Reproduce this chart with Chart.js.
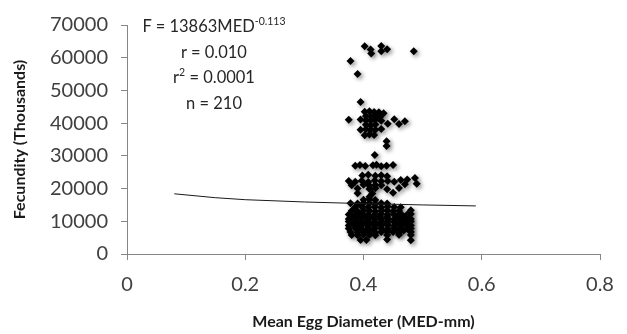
<!DOCTYPE html>
<html>
<head>
<meta charset="utf-8">
<script src="https://cdn.jsdelivr.net/npm/chart.js@4"></script>
<style>
  html, body { margin: 0; padding: 0; background: #fff; }
  #wrap { position: relative; width: 627px; height: 334px; }
  #note { position: absolute; left: 114px; top: 14px; width: 200px; text-align: center;
          font-family: Lato, "Open Sans", sans-serif; font-size: 16.5px; color: #262626; line-height: 25.5px; }
  #note sup { font-size: 10.5px; vertical-align: 7px; line-height: 0; }
</style>
</head>
<body>
<div id="wrap">
  <canvas id="c" width="627" height="334"></canvas>
  <div id="note">
    <div>F = 13863MED<sup>-0.113</sup></div>
    <div>r = 0.010</div>
    <div>r<sup>2</sup> = 0.0001</div>
    <div>n = 210</div>
  </div>
</div>
<script>
// Mean egg diameter (mm) of each observation
const med = [
  0.378,0.390,0.402,0.412,0.413,0.430,0.430,0.440,0.485,
  0.395, 0.402,0.410,0.418,0.426,0.434, 0.404,0.412,0.420,0.428,
  0.375,0.395,0.404,0.412,0.420,0.430,0.452,0.470, 0.441,0.460,
  0.404,0.412,0.420, 0.395,0.404,0.412,0.420,0.430, 0.402,0.410,0.418, 0.439,0.439, 0.419,
  0.386,0.394,0.403,0.416,0.422,0.430,0.439,0.450,
  0.398,0.408,0.420,0.430,0.440,
  0.375,0.386,0.397,0.408,0.419,0.430,0.441,0.452,0.463,0.474,0.487,
  0.380,0.400,0.410,0.420,0.430,0.470,0.490,
  0.390,0.410,0.420,0.440,0.460,
  0.390,0.415,0.450, 0.410,
  0.400,0.410,0.420,
  0.378,0.390,0.400,0.410,0.420,0.430,0.440,
  0.386,0.397,0.408,0.419,0.430,0.441,0.452,0.463,
  0.380,0.390,0.400,0.410,0.420,0.430,0.440,0.450,0.460,0.480,
  0.375,0.386,0.397,0.408,0.419,0.430,0.441,0.452,0.463,0.474,0.480,
  0.380,0.392,0.404,0.416,0.428,0.440,0.456,0.468,
  0.375,0.386,0.397,0.408,0.419,0.430,0.441,0.452,0.463,0.474,0.480,
  0.375,0.386,0.397,0.408,0.419,0.430,0.441,0.452,0.463,0.474,0.480,
  0.380,0.392,0.404,0.416,0.428,0.440,0.456,0.468,
  0.375,0.386,0.397,0.408,0.419,0.430,0.441,0.452,0.463,0.474,0.480,
  0.375,0.386,0.397,0.408,0.419,0.430,0.441,0.452,0.463,0.474,0.480,
  0.392,0.404,0.416,0.440,0.456,0.468,
  0.378,0.390,0.400,0.410,0.420,0.430,0.440,0.450,0.460,0.480,
  0.380,0.390,0.400,0.410,0.420,0.440,0.460,0.480,
  0.395,0.405,0.440,0.480
];
// Fecundity (thousands) of each observation
const fecundity = [
  59000,55000,63500,62500,61300,63600,62000,62600,62000,
  46500, 43500,43600,43400,43300,43000, 42200,42000,42300,41900,
  41000,41100,40900,40800,41000,40700,41200,40600, 39800,39700,
  39500,39300,39600, 38000,38100,37900,38000,38200, 36300,36500,36400, 34500,33000, 30300,
  27000,27200,26900,27100,27300,26800,27000,27200,
  24000,24200,23900,24100,23800,
  22300,22100,22400,22000,22500,22200,22300,22100,22600,22800,23200,
  21000,21200,20900,21100,21000,21300,21500,
  20000,19900,20100,19800,20200,
  18600,18500,18700, 17500,
  16600,16700,16500,
  15500,15400,15600,15500,15300,15500,15400,
  14400,14500,14300,14400,14200,14500,14400,14300,
  13200,13100,13300,13200,13000,13200,13300,13100,13200,13400,
  12100,12000,12200,12100,12000,12200,12100,12000,12300,12100,12200,
  11400,11300,11500,11400,11300,11400,11500,11400,
  10700,10600,10800,10700,10600,10700,10800,10600,10700,10800,10700,
  9900,9800,10000,9900,9800,9900,10000,9800,9900,10000,9900,
  9300,9200,9400,9300,9200,9300,9400,9300,
  8700,8600,8800,8700,8600,8700,8800,8600,8700,8800,8700,
  7800,7900,7700,7800,7900,7800,7700,7900,7800,7700,7800,
  7300,7200,7300,7200,7300,7200,
  6700,6600,6800,6700,6600,6700,6800,6700,6600,6700,
  5800,5700,5900,5800,5700,5800,5900,5800,
  4300,4300,4400,4200
];
// Power trendline
const trendMed = [0.08, 0.15, 0.2, 0.3, 0.4, 0.5, 0.59];
const trendFecundity = [18400, 17200, 16600, 15900, 15400, 15000, 14700];
// Axis ticks
const xTicks = [0, 0.2, 0.4, 0.6, 0.8];
const yTicks = [0, 10000, 20000, 30000, 40000, 50000, 60000, 70000];

const n = Math.min(med.length, fecundity.length);
const scatterPts = [];
for (let i = 0; i < n; i++) scatterPts.push({ x: med[i], y: fecundity[i] });
const trendPts = trendMed.map((x, i) => ({ x, y: trendFecundity[i] }));

const shadowPlugin = {
  id: 'shadow',
  beforeDatasetDraw(chart, args) {
    if (args.index === 1) {
      const ctx = chart.ctx;
      ctx.save();
      ctx.shadowColor = 'rgba(0,0,0,0.45)';
      ctx.shadowBlur = 4;
      ctx.shadowOffsetX = 2;
      ctx.shadowOffsetY = 2;
    }
  },
  afterDatasetDraw(chart, args) {
    if (args.index === 1) chart.ctx.restore();
  }
};

const tickFont = { family: 'Lato, "Open Sans", sans-serif', size: 20 };
const titleFont = { family: 'Lato, "Open Sans", sans-serif', size: 16, weight: 'bold' };
const axisGray = '#868686';

new Chart(document.getElementById('c'), {
  type: 'scatter',
  data: {
    datasets: [
      {
        type: 'line',
        data: trendPts,
        borderColor: '#1a1a1a',
        borderWidth: 1,
        pointRadius: 0,
        fill: false,
        tension: 0
      },
      {
        data: scatterPts,
        pointStyle: 'rectRot',
        pointRadius: 4,
        pointBackgroundColor: '#000',
        pointBorderWidth: 0,
        borderWidth: 0
      }
    ]
  },
  options: {
    responsive: false,
    animation: false,
    devicePixelRatio: 1,
    layout: { padding: { top: 21, right: 27, left: 0, bottom: 0 } },
    plugins: { legend: { display: false }, tooltip: { enabled: false } },
    scales: {
      x: {
        type: 'linear',
        min: 0, max: 0.8,
        afterBuildTicks(s) { s.ticks = xTicks.map(v => ({ value: v })); },
        afterFit(s) { s.height = 80; },
        ticks: {
          font: tickFont, color: '#404040', padding: 13,
          callback: v => String(Math.round(v * 10) / 10)
        },
        grid: { drawOnChartArea: false, drawTicks: true, tickLength: 6, color: axisGray },
        border: { color: axisGray, width: 1 },
        title: { display: true, text: 'Mean Egg Diameter (MED-mm)', font: titleFont, color: '#1a1a1a', padding: { top: 4, bottom: 3 } }
      },
      y: {
        type: 'linear',
        min: 0, max: 70000,
        afterBuildTicks(s) { s.ticks = yTicks.map(v => ({ value: v })); },
        afterFit(s) { s.width = 127; },
        ticks: {
          font: tickFont, color: '#404040', padding: 13,
          callback: v => String(v)
        },
        grid: { drawOnChartArea: false, drawTicks: true, tickLength: 6, color: axisGray },
        border: { color: axisGray, width: 1 },
        title: { display: true, text: 'Fecundity (Thousands)', font: titleFont, color: '#1a1a1a', padding: { top: 10, bottom: 4 } }
      }
    }
  },
  plugins: [shadowPlugin]
});
</script>
</body>
</html>
